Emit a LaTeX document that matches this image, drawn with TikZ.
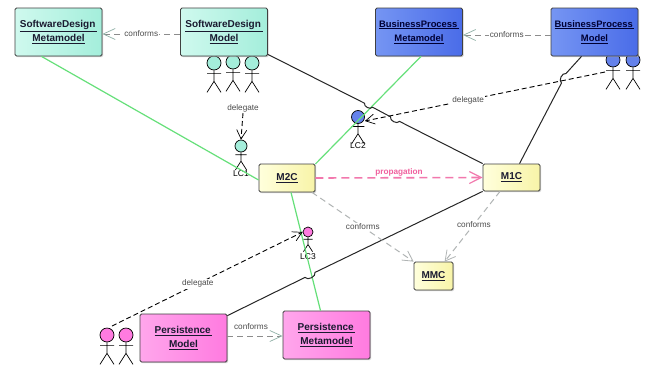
\documentclass[tikz,border=0pt]{standalone}
\usepackage{fontspec}
\setmainfont{Liberation Sans}
\usetikzlibrary{arrows.meta,calc,shadows}
\definecolor{mintA}{HTML}{CFF9EE}\definecolor{mintB}{HTML}{A4EEDB}
\definecolor{blueA}{HTML}{7595F3}\definecolor{blueB}{HTML}{4A6CE8}
\definecolor{pinkA}{HTML}{FFA6EC}\definecolor{pinkB}{HTML}{FF7BE0}
\definecolor{yelA}{HTML}{FFFFDC}\definecolor{yelB}{HTML}{F8F4A8}
\definecolor{lnk}{HTML}{66E07A}\definecolor{prop}{HTML}{F0609E}
\definecolor{conf}{HTML}{B0B4B4}\definecolor{txt}{HTML}{1A1A30}
\definecolor{tipc}{HTML}{8FB0A6}
\tikzset{
 box/.style={draw=black!75,line width=.8pt,rounded corners=1.5pt,inner sep=0pt,align=center,
   font=\fontsize{10}{14.5}\selectfont\bfseries,text=txt,
   drop shadow={shadow xshift=1.2pt,shadow yshift=-1.2pt,fill=black!30,opacity=.6}},
 mint/.style={box,left color=mintA,right color=mintB},
 blue/.style={box,left color=blueA,right color=blueB,font=\fontsize{9.4}{14.5}\selectfont\bfseries,text=black!80!blue},
 pink/.style={box,left color=pinkA,right color=pinkB},
 yel/.style={box,left color=yelA,right color=yelB},
 big/.style={minimum width=87pt,minimum height=48pt},
 lbl/.style={fill=white,inner sep=1pt,font=\fontsize{8.2}{9}\selectfont,text=black!70},
 clbl/.style={lbl,font=\fontsize{8.2}{9}\selectfont\bfseries,text=prop,fill=none},
 lc/.style={inner sep=0pt,font=\fontsize{8.5}{10}\selectfont,text=black},
 green link/.style={draw=lnk,line width=1.2pt},
 black link/.style={draw=black!85,line width=1pt},
 dele/.style={draw=black,line width=.9pt,dash pattern=on 5pt off 3pt,-{Straight Barb[length=9pt,width=10pt,line width=.7pt]}},
 confm/.style={draw=conf,line width=1pt,dash pattern=on 6pt off 4pt,-{Straight Barb[length=10pt,width=11pt,line width=.8pt]}},
 thin conf/.style={draw=black!45,line width=.6pt,dash pattern=on 6pt off 4pt,-{Straight Barb[length=12pt,width=11pt,line width=.7pt,color=tipc]}},
}
% name, x, head y, r, colour, size factor
\newcommand{\stick}[6]{%
 \node[circle,draw=black,line width=.7pt,fill=#5,inner sep=0pt,minimum size=#4*2pt] (#1) at (#2,#3) {};
 \draw[black,line width=.7pt]
   (#1.south) -- ++(0,#6*11)
   ++(0,-#6*8) ++(-#6*7,0) -- ++(#6*14,0)
   ++(-#6*7,#6*8) -- ++(-#6*7,#6*11) ++(#6*7,-#6*11) -- ++(#6*7,#6*11);
}
\begin{document}
\begin{tikzpicture}[x=1pt,y=-1pt]
\useasboundingbox[fill=white] (0,0) rectangle (652,367);
% actors behind boxes
\stick{sa}{214}{63}{7}{mintB}{1}
\stick{sb}{233}{62}{7}{mintB}{1}
\stick{sc}{252}{63}{7}{mintB}{1}
\stick{lcone}{241}{146}{6}{mintB}{.8}
\stick{lctwo}{358}{117}{6.5}{blueB!85}{.9}
\stick{lcthree}{308}{232}{5}{pinkB}{.65}
\stick{ba}{613}{60}{7}{blueB!85}{1}
\stick{bb}{633}{60}{7}{blueB!85}{1}
\stick{pa}{107}{335}{7}{pinkB}{1}
\stick{pb}{126}{335}{7}{pinkB}{1}
\node[lc] (lcone label) at (241,174) {LC1};
\node[lc] (lctwo label) at (358,146) {LC2};
\node[lc] (lcthree label) at (308,257) {LC3};
% boxes
\node[mint,big] (sdm) at (58.5,32) {\underline{SoftwareDesign\,}\\\underline{Metamodel}};
\node[mint,big] (sd) at (224,32) {\underline{SoftwareDesign\,}\\\underline{Model}};
\node[blue,big] (bpm) at (419,32) {\underline{BusinessProcess\,}\\\underline{Metamodel}};
\node[blue,big] (bp) at (594.5,32) {\underline{BusinessProcess\,}\\\underline{Model}};
\node[pink,big] (pm) at (183.5,338) {\underline{Persistence\,}\\\underline{Model}};
\node[pink,big] (pmm) at (326.5,335) {\underline{Persistence\,}\\\underline{Metamodel}};
\node[yel,minimum width=56pt,minimum height=28pt] (mtwo) at (287,178) {\underline{M2C}};
\node[yel,minimum width=57pt,minimum height=27pt] (mone) at (511.5,177.5) {\underline{M1C}};
\node[yel,minimum width=39pt,minimum height=28pt] (mmc) at (433.5,276) {\underline{MMC}};
% green links
\draw[green link] ([xshift=-17pt]sdm.south) -- ([yshift=-2pt]mtwo.west);
\draw[green link] ([xshift=2pt]bpm.south) -- ([yshift=14pt]mtwo.east);
\draw[green link] ([xshift=4pt]mtwo.south) -- ([xshift=-6pt]pmm.north);
% black links with jumps
\coordinate (j1a) at (364.5,103.2);\coordinate (j1b) at (372.5,107.2);
\coordinate (j2a) at (390.5,116.8);\coordinate (j2b) at (399.5,121.4);
\coordinate (j3a) at (566,73.5);\coordinate (j3b) at (561.5,83);
\coordinate (j4a) at (305,277.4);\coordinate (j4b) at (315,272.4);
\draw[black link] ([yshift=2pt]sd.south east) -- (j1a) to[bend right=80] (j1b) -- (j2a) to[bend right=80] (j2b) -- (mone.north west);
\draw[black link] ([xshift=-13pt]bp.south) -- (j3a) to[bend right=80] (j3b) -- ([xshift=8pt]mone.north);
\draw[black link] ([yshift=-2pt]pm.north east) -- (j4a) to[bend right=80] (j4b) -- (mone.south west);
% delegates
\coordinate (bdel) at (605,72);
\coordinate (pdel) at (112,326);
\draw[dele] (bdel) -- node[lbl,pos=.57] {delegate} ([yshift=-4pt]lctwo.east);
\draw[dele] (pdel) -- node[lbl,pos=.45] (dl) {delegate} (lcthree.west);
\node[lbl] (dlone) at (243,108) {delegate};
\draw[dele] (dlone.south) -- (lcone.north);
% conforms
\draw[thin conf] ([yshift=-2pt]sd.west) -- node[lbl] {conforms} ([yshift=-2pt]sdm.east);
\draw[thin conf] ([yshift=-3pt]bp.west) -- node[lbl] {conforms} ([yshift=-3pt]bpm.east);
\draw[thin conf] ([yshift=2pt]pm.east) -- ([yshift=-1pt]pmm.west);
\node[lbl,fill=none] (cp) at (251,327) {conforms};
\draw[confm] ([xshift=25pt]mtwo.south) -- node[lbl,pos=.5] {conforms} (mmc.north west);
\draw[confm] ([xshift=-11.5pt]mone.south) -- node[lbl,pos=.47] {conforms} ([xshift=31pt]mmc.north west);
% propagation
\draw[draw=prop!85,line width=1.6pt,dash pattern=on 8pt off 5pt,-{Straight Barb[length=12pt,width=12pt,line width=1.2pt]}] (mtwo.east) -- node[clbl,above=0pt] {propagation} (mone.west);
\end{tikzpicture}
\end{document}
